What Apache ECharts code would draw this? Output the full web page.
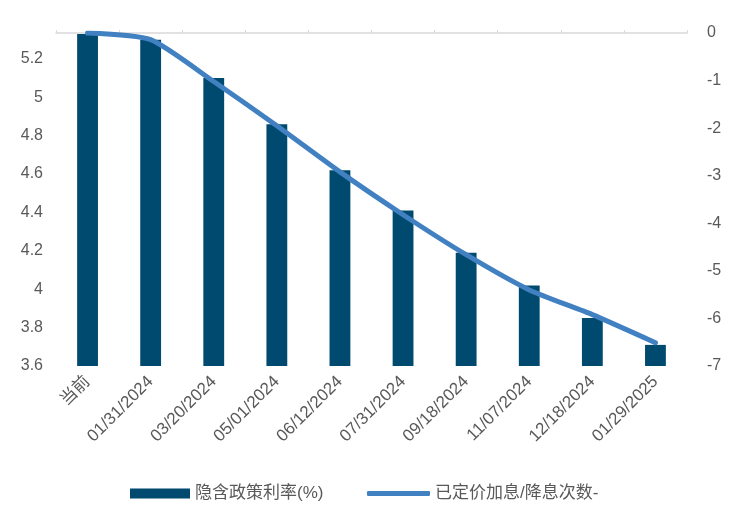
<!DOCTYPE html>
<html>
<head>
<meta charset="utf-8">
<script src="https://cdn.jsdelivr.net/npm/echarts@6/dist/echarts.min.js"></script>
<style>
html,body{margin:0;padding:0;background:#fff;}
#c{width:738px;height:516px;}
</style>
</head>
<body>
<div id="c"></div>
<script>
const categories = ['当前','01/31/2024','03/20/2024','05/01/2024','06/12/2024','07/31/2024','09/18/2024','11/07/2024','12/18/2024','01/29/2025'];
const impliedRate = [5.33, 5.30, 5.10, 4.86, 4.62, 4.41, 4.19, 4.02, 3.85, 3.71];
const pricedMoves = [0, -0.14, -1.02, -1.95, -2.92, -3.82, -4.66, -5.40, -5.92, -6.51];
const barName = '隐含政策利率(%)';
const lineName = '已定价加息/降息次数-';

const FONT = '"Liberation Sans", Arial, Helvetica, "Noto Sans CJK SC", sans-serif';
const GRAY = '#595959';
const chart = echarts.init(document.getElementById('c'), null, {renderer:'canvas'});
chart.setOption({
  animation: false,
  backgroundColor: '#ffffff',
  textStyle: {fontFamily: FONT},
  grid: {left: 56, right: 51, top: 33, bottom: 150, containLabel: false},
  legend: [
    {data: [barName], left: 130, top: 485, padding: 0, icon: 'rect', itemWidth: 60, itemHeight: 10,
     textStyle: {fontSize: 17, color: GRAY, fontFamily: FONT}},
    {data: [lineName], left: 367, top: 485, padding: 0, icon: 'roundRect', itemWidth: 63, itemHeight: 5,
     textStyle: {fontSize: 17, color: GRAY, fontFamily: FONT}}
  ],
  xAxis: {
    type: 'category', data: categories, boundaryGap: true,
    axisLine: {lineStyle: {color: '#d9d9d9', width: 1.5}},
    axisTick: {show: true, inside: true, length: 3, lineStyle: {color: '#d9d9d9'}},
    axisLabel: {rotate: 45, interval: 0, margin: 13, fontSize: 17, color: GRAY, fontFamily: FONT}
  },
  yAxis: [
    {type: 'value', min: 3.6, max: 5.335, interval: 0.2,
     axisLine: {show: false}, axisTick: {show: false}, splitLine: {show: false},
     axisLabel: {margin: 13, fontSize: 16, color: GRAY, fontFamily: FONT, showMaxLabel: false}},
    {type: 'value', min: -7, max: 0, interval: 1, position: 'right',
     axisLine: {show: false}, axisTick: {show: false}, splitLine: {show: false},
     axisLabel: {margin: 20, fontSize: 16, color: GRAY, fontFamily: FONT}}
  ],
  series: [
    {name: barName, type: 'bar', yAxisIndex: 0, data: impliedRate, barWidth: '33%',
     itemStyle: {color: '#014a6f'}, z: 2},
    {name: lineName, type: 'line', yAxisIndex: 1, data: pricedMoves, smooth: 0.2,
     showSymbol: false, symbol: 'none',
     lineStyle: {color: '#4180c1', width: 5, cap: 'round'}, itemStyle: {color: '#4180c1'}, z: 3}
  ]
});
</script>
</body>
</html>
